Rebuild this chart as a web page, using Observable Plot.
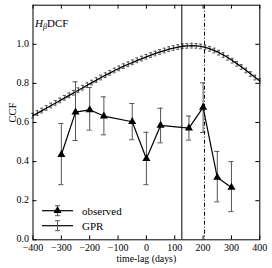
<!DOCTYPE html>
<html>
<head>
<meta charset="utf-8">
<script src="https://cdn.jsdelivr.net/npm/d3@7"></script>
<script src="https://cdn.jsdelivr.net/npm/@observablehq/plot@0.6"></script>
<style>
  html, body { margin: 0; padding: 0; background: white; }
</style>
</head>
<body>
<div id="chart"></div>
<script>
// Observed DCF points
const obsLag = [-300, -250, -200, -150, -50, 0, 50, 150, 200, 250, 300];
const obsCcf = [0.435, 0.653, 0.665, 0.633, 0.604, 0.415, 0.585, 0.571, 0.677, 0.319, 0.268];
const obsLo  = [0.282, 0.508, 0.561, 0.537, 0.512, 0.282, 0.496, 0.510, 0.549, 0.194, 0.144];
const obsHi  = [0.595, 0.808, 0.779, 0.731, 0.697, 0.550, 0.673, 0.633, 0.803, 0.452, 0.400];

// GPR curve
const gprLag = [-400,-384,-368,-352,-336,-320,-304,-288,-272,-256,-240,-224,-208,-192,-176,-160,-144,-128,-112,-96,-80,-64,-48,-32,-16,0,16,32,48,64,80,96,112,128,144,160,176,192,208,224,240,256,272,288,304,320,336,352,368,384,400];
const gprCcf = [0.635,0.648,0.661,0.674,0.687,0.700,0.713,0.726,0.739,0.752,0.765,0.778,0.791,0.804,0.817,0.830,0.842,0.854,0.866,0.877,0.888,0.898,0.908,0.918,0.927,0.936,0.945,0.953,0.961,0.968,0.975,0.981,0.986,0.990,0.992,0.993,0.992,0.989,0.984,0.977,0.968,0.957,0.945,0.931,0.916,0.900,0.884,0.866,0.848,0.830,0.812];
const gprErr = [0.012,0.012,0.012,0.012,0.012,0.012,0.012,0.012,0.012,0.012,0.012,0.012,0.012,0.012,0.012,0.012,0.012,0.012,0.012,0.012,0.012,0.012,0.012,0.012,0.012,0.012,0.012,0.012,0.012,0.012,0.012,0.012,0.012,0.012,0.012,0.012,0.012,0.012,0.012,0.012,0.012,0.012,0.012,0.012,0.012,0.012,0.012,0.012,0.012,0.012,0.012];

// Vertical reference lines
const solidLag = [125];
const dashLag = [205];

// Ticks
const xTicks = [-400, -300, -200, -100, 0, 100, 200, 300, 400];
const yTicks = [0.0, 0.2, 0.4, 0.6, 0.8, 1.0];
const yTicksRight = [0.2, 0.4, 0.6, 0.8, 1.0];
const xLabel = "time-lag (days)";
const yLabel = "CCF";
const legendLabels = ["observed", "GPR"];

const obs = obsLag.map((x, i) => ({x, y: obsCcf[i], lo: obsLo[i], hi: obsHi[i]}));
const gpr = gprLag.map((x, i) => ({x, y: gprCcf[i], lo: gprCcf[i] - gprErr[i], hi: gprCcf[i] + gprErr[i]}));

const fmtX = d => d < 0 ? "\u2212" + Math.abs(d) : String(d);
const fmtY = d3.format(".1f");
const serif = "Liberation Serif";
const tickLenX = 0.02;   // in y units (~4px)
const tickLenY = 14;     // in x units (~4px)

const chart = Plot.plot({
  width: 272,
  height: 268,
  marginLeft: 32.5,
  marginRight: 12.7,
  marginTop: 4.7,
  marginBottom: 28.7,
  x: {domain: [-400, 400]},
  y: {domain: [0, 1.2]},
  style: {fontFamily: serif, fontSize: "10px", background: "white", color: "black"},
  marks: [
    Plot.axisX({ticks: xTicks, tickSize: 0, tickPadding: 4, tickFormat: fmtX, label: null, fontSize: 10, fontFamily: serif}),
    Plot.axisY({ticks: yTicks, tickSize: 0, tickPadding: 4, dy: -1, tickFormat: fmtY, label: null, fontSize: 10, fontFamily: serif}),
    // inward ticks
    Plot.ruleX(xTicks, {x: d => d, y1: 0, y2: tickLenX, stroke: "black"}),
    Plot.ruleX(xTicks, {x: d => d, y1: 1.2 - tickLenX, y2: 1.2, stroke: "black"}),
    Plot.ruleY(yTicks, {y: d => d, x1: -400, x2: -400 + tickLenY, stroke: "black"}),
    Plot.ruleY(yTicksRight, {y: d => d, x1: 400 - tickLenY, x2: 400, stroke: "black"}),
    // GPR
    Plot.ruleX(gpr, {x: "x", y1: "lo", y2: "hi", stroke: "#555", strokeWidth: 1}),
    Plot.ruleY(gpr, {y: "lo", x1: d => d.x - 5, x2: d => d.x + 5, stroke: "#555", strokeWidth: 1}),
    Plot.ruleY(gpr, {y: "hi", x1: d => d.x - 5, x2: d => d.x + 5, stroke: "#555", strokeWidth: 1}),
    Plot.line(gpr, {x: "x", y: "y", stroke: "black", strokeWidth: 1.3}),
    // observed
    Plot.ruleX(obs, {x: "x", y1: "lo", y2: "hi", stroke: "#555", strokeWidth: 1}),
    Plot.ruleY(obs, {y: "lo", x1: d => d.x - 9, x2: d => d.x + 9, stroke: "#555", strokeWidth: 1}),
    Plot.ruleY(obs, {y: "hi", x1: d => d.x - 9, x2: d => d.x + 9, stroke: "#555", strokeWidth: 1}),
    Plot.line(obs, {x: "x", y: "y", stroke: "black", strokeWidth: 1.2}),
    Plot.dot(obs, {x: "x", y: "y", symbol: "triangle", r: 3, fill: "black", stroke: null}),
    // vertical lines
    Plot.ruleX(solidLag, {x: d => d, stroke: "black", strokeWidth: 1}),
    Plot.ruleX(dashLag, {x: d => d, stroke: "black", strokeWidth: 1, strokeDasharray: "4,2,1,2"}),
    Plot.frame({stroke: "black", strokeWidth: 1}),
    // axis labels
    Plot.text([xLabel], {frameAnchor: "bottom", dy: 22, fontSize: 9.8, fontFamily: serif, fill: "black"}),
    Plot.text([yLabel], {frameAnchor: "left", dx: -20, rotate: -90, fontSize: 10.5, fontFamily: serif, fill: "black"})
  ]
});

document.getElementById("chart").appendChild(chart);

// Title annotation and legend drawn into the same SVG
const svg = d3.select(chart);
const t = svg.append("text")
  .attr("x", 35).attr("y", 26.5)
  .attr("text-anchor", "start")
  .style("font-family", serif).style("font-size", "11px").attr("fill", "black");
t.append("tspan").style("font-style", "italic").text("H");
t.append("tspan").style("font-style", "italic").style("font-size", "8px").attr("dy", 2.5).text("β");
t.append("tspan").attr("dy", -2.5).text("DCF");

const lg = svg.append("g").style("font-family", serif).style("font-size", "11px").attr("text-anchor", "start");
const rows = [{y: 210.7, marker: true}, {y: 225.7, marker: false}];
rows.forEach((r, i) => {
  lg.append("line").attr("x1", 42).attr("x2", 73).attr("y1", r.y).attr("y2", r.y).attr("stroke", "black").attr("stroke-width", 1.2);
  lg.append("line").attr("x1", 57.5).attr("x2", 57.5).attr("y1", r.y - 5).attr("y2", r.y + 5).attr("stroke", "#555");
  lg.append("line").attr("x1", 55).attr("x2", 60).attr("y1", r.y - 5).attr("y2", r.y - 5).attr("stroke", "#555");
  lg.append("line").attr("x1", 55).attr("x2", 60).attr("y1", r.y + 5).attr("y2", r.y + 5).attr("stroke", "#555");
  if (r.marker) {
    lg.append("path").attr("d", d3.symbol(d3.symbolTriangle, 28)()).attr("transform", `translate(57.5,${r.y})`).attr("fill", "black");
  }
  lg.append("text").attr("x", 82).attr("y", r.y).attr("dy", "0.35em").attr("text-anchor", "start").attr("fill", "black").text(legendLabels[i]);
});
</script>
</body>
</html>
